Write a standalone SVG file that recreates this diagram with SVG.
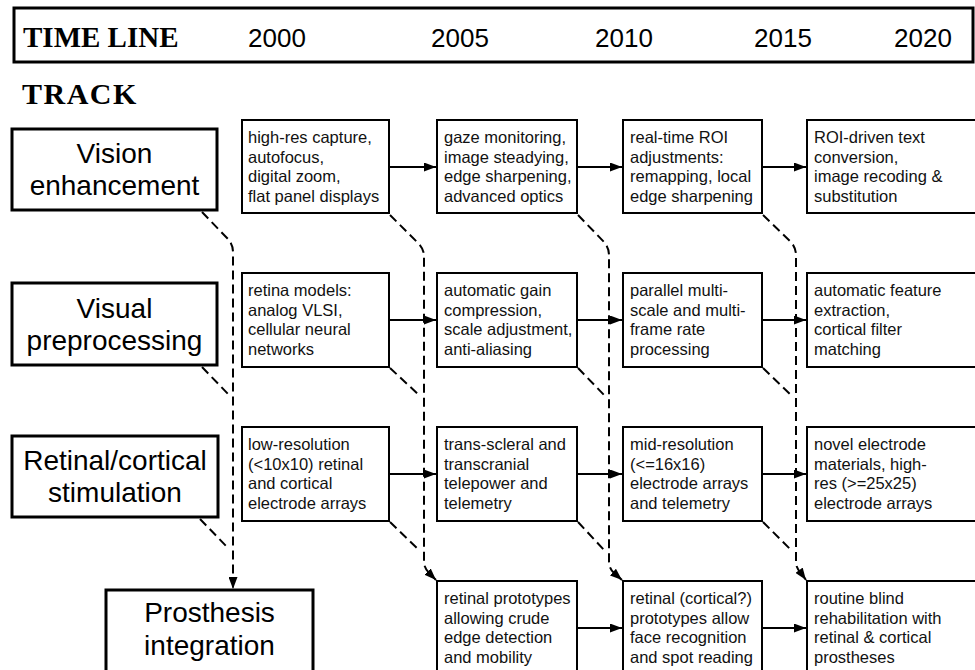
<svg xmlns="http://www.w3.org/2000/svg" width="975" height="670" viewBox="0 0 975 670">
<defs>
<marker id="ah" markerUnits="userSpaceOnUse" markerWidth="12" markerHeight="9" refX="12" refY="4.5" orient="auto">
<path d="M0,0 L12,4.5 L0,9 z" fill="#000"/>
</marker>
</defs>
<style>
.hdr{font-family:"Liberation Serif","Times New Roman",serif;font-weight:bold;font-size:29px;fill:#000}
.yr{font-family:"Liberation Sans",Arial,sans-serif;font-size:26px;fill:#000;text-anchor:middle}
.trk{fill:#fff;stroke:#000;stroke-width:3}
.tt{font-family:"Liberation Sans",Arial,sans-serif;font-size:28px;text-anchor:middle;fill:#000}
.box{fill:#fff;stroke:#000;stroke-width:2}
.bt{font-family:"Liberation Sans",Arial,sans-serif;font-size:16.5px;fill:#111}
.ar{fill:none;stroke:#000;stroke-width:2;marker-end:url(#ah)}
.dl{fill:none;stroke:#000;stroke-width:2;stroke-dasharray:9 5}
.da{fill:none;stroke:#000;stroke-width:2;stroke-dasharray:9 5;marker-end:url(#ah)}
</style>
<rect width="975" height="670" fill="#fff"/>
<g id="timeline">
<rect x="14" y="8" width="959" height="54" fill="#fff" stroke="#000" stroke-width="3"/>
<text class="hdr" x="23" y="47">TIME LINE</text>
<text class="yr" x="277" y="47">2000</text>
<text class="yr" x="460" y="47">2005</text>
<text class="yr" x="624" y="47">2010</text>
<text class="yr" x="783" y="47">2015</text>
<text class="yr" x="923" y="47">2020</text>
</g>
<text class="hdr" x="22" y="104" style="font-size:30px;letter-spacing:1.5px">TRACK</text>

<g id="connectors">
<path class="ar" d="M389 167 L436 167"/>
<path class="ar" d="M577 167 L622 167"/>
<path class="ar" d="M762 167 L806 167"/>
<path class="ar" d="M389 320 L436 320"/>
<path class="ar" d="M577 320 L622 320"/>
<path class="ar" d="M762 320 L806 320"/>
<path class="ar" d="M389 474 L436 474"/>
<path class="ar" d="M577 474 L622 474"/>
<path class="ar" d="M762 474 L806 474"/>
<path class="ar" d="M577 628 L622 628"/>
<path class="ar" d="M762 628 L806 628"/>
<path class="da" d="M202 212 L227 238 Q233 244 233 252 L233 589"/>
<path class="dl" d="M202 367 L229 395"/>
<path class="dl" d="M200 519 L229 549"/>
<path class="da" d="M390 215 L418 243 Q424 249 424 256 L424 562 Q424 568 430 574 L436 580"/>
<path class="dl" d="M390 368 L420 396"/>
<path class="dl" d="M390 522 L420 551"/>
<path class="da" d="M578 215 L604 242 Q609 248 609 255 L609 562 Q609 568 614 573 L622 580"/>
<path class="dl" d="M578 368 L605 396"/>
<path class="dl" d="M578 522 L605 551"/>
<path class="da" d="M763 215 L791 242 Q796 248 796 255 L796 562 Q796 568 801 573 L806 580"/>
<path class="dl" d="M763 368 L792 396"/>
<path class="dl" d="M763 522 L792 551"/>
</g>

<g id="track-vision">
<rect class="trk" x="12" y="129" width="205" height="81"/>
<text class="tt" x="114.5" y="163">Vision</text>
<text class="tt" x="114.5" y="195">enhancement</text>
</g>
<g id="track-preproc">
<rect class="trk" x="12" y="283" width="205" height="82"/>
<text class="tt" x="114.5" y="318">Visual</text>
<text class="tt" x="114.5" y="350">preprocessing</text>
</g>
<g id="track-stim">
<rect class="trk" x="12" y="436" width="206" height="81"/>
<text class="tt" x="115" y="470">Retinal/cortical</text>
<text class="tt" x="115" y="502">stimulation</text>
</g>
<g id="track-prosthesis">
<rect class="trk" x="106" y="590" width="207" height="84"/>
<text class="tt" x="209.5" y="622">Prosthesis</text>
<text class="tt" x="209.5" y="655">integration</text>
</g>

<g id="r1c1"><rect class="box" x="242" y="120" width="147" height="93"/>
<text class="bt" x="248" y="143">high-res capture,</text><text class="bt" x="248" y="163">autofocus,</text><text class="bt" x="248" y="182">digital zoom,</text><text class="bt" x="248" y="202">flat panel displays</text></g>
<g id="r1c2"><rect class="box" x="437" y="120" width="140" height="93"/>
<text class="bt" x="444" y="143">gaze monitoring,</text><text class="bt" x="444" y="163">image steadying,</text><text class="bt" x="444" y="182">edge sharpening,</text><text class="bt" x="444" y="202">advanced optics</text></g>
<g id="r1c3"><rect class="box" x="623" y="120" width="139" height="93"/>
<text class="bt" x="630" y="143">real-time ROI</text><text class="bt" x="630" y="163">adjustments:</text><text class="bt" x="630" y="182">remapping, local</text><text class="bt" x="630" y="202">edge sharpening</text></g>
<g id="r1c4"><rect class="box" x="807" y="120" width="175" height="93"/>
<text class="bt" x="814" y="143">ROI-driven text</text><text class="bt" x="814" y="163">conversion,</text><text class="bt" x="814" y="182">image recoding &amp;</text><text class="bt" x="814" y="202">substitution</text></g>

<g id="r2c1"><rect class="box" x="242" y="273" width="147" height="94"/>
<text class="bt" x="248" y="296">retina models:</text><text class="bt" x="248" y="316">analog VLSI,</text><text class="bt" x="248" y="335">cellular neural</text><text class="bt" x="248" y="355">networks</text></g>
<g id="r2c2"><rect class="box" x="437" y="273" width="140" height="94"/>
<text class="bt" x="444" y="296">automatic gain</text><text class="bt" x="444" y="316">compression,</text><text class="bt" x="444" y="335">scale adjustment,</text><text class="bt" x="444" y="355">anti-aliasing</text></g>
<g id="r2c3"><rect class="box" x="623" y="273" width="139" height="94"/>
<text class="bt" x="630" y="296">parallel multi-</text><text class="bt" x="630" y="316">scale and multi-</text><text class="bt" x="630" y="335">frame rate</text><text class="bt" x="630" y="355">processing</text></g>
<g id="r2c4"><rect class="box" x="807" y="273" width="175" height="94"/>
<text class="bt" x="814" y="296">automatic feature</text><text class="bt" x="814" y="316">extraction,</text><text class="bt" x="814" y="335">cortical filter</text><text class="bt" x="814" y="355">matching</text></g>

<g id="r3c1"><rect class="box" x="242" y="427" width="147" height="94"/>
<text class="bt" x="248" y="450">low-resolution</text><text class="bt" x="248" y="470">(&lt;10x10) retinal</text><text class="bt" x="248" y="489">and cortical</text><text class="bt" x="248" y="509">electrode arrays</text></g>
<g id="r3c2"><rect class="box" x="437" y="427" width="140" height="94"/>
<text class="bt" x="444" y="450">trans-scleral and</text><text class="bt" x="444" y="470">transcranial</text><text class="bt" x="444" y="489">telepower and</text><text class="bt" x="444" y="509">telemetry</text></g>
<g id="r3c3"><rect class="box" x="623" y="427" width="139" height="94"/>
<text class="bt" x="630" y="450">mid-resolution</text><text class="bt" x="630" y="470">(&lt;=16x16)</text><text class="bt" x="630" y="489">electrode arrays</text><text class="bt" x="630" y="509">and telemetry</text></g>
<g id="r3c4"><rect class="box" x="807" y="427" width="175" height="94"/>
<text class="bt" x="814" y="450">novel electrode</text><text class="bt" x="814" y="470">materials, high-</text><text class="bt" x="814" y="489">res (&gt;=25x25)</text><text class="bt" x="814" y="509">electrode arrays</text></g>

<g id="r4c2"><rect class="box" x="437" y="581" width="140" height="94"/>
<text class="bt" x="444" y="604">retinal prototypes</text><text class="bt" x="444" y="624">allowing crude</text><text class="bt" x="444" y="643">edge detection</text><text class="bt" x="444" y="663">and mobility</text></g>
<g id="r4c3"><rect class="box" x="623" y="581" width="139" height="94"/>
<text class="bt" x="630" y="604">retinal (cortical?)</text><text class="bt" x="630" y="624">prototypes allow</text><text class="bt" x="630" y="643">face recognition</text><text class="bt" x="630" y="663">and spot reading</text></g>
<g id="r4c4"><rect class="box" x="807" y="581" width="175" height="94"/>
<text class="bt" x="814" y="604">routine blind</text><text class="bt" x="814" y="624">rehabilitation with</text><text class="bt" x="814" y="643">retinal &amp; cortical</text><text class="bt" x="814" y="663">prostheses</text></g>
</svg>
